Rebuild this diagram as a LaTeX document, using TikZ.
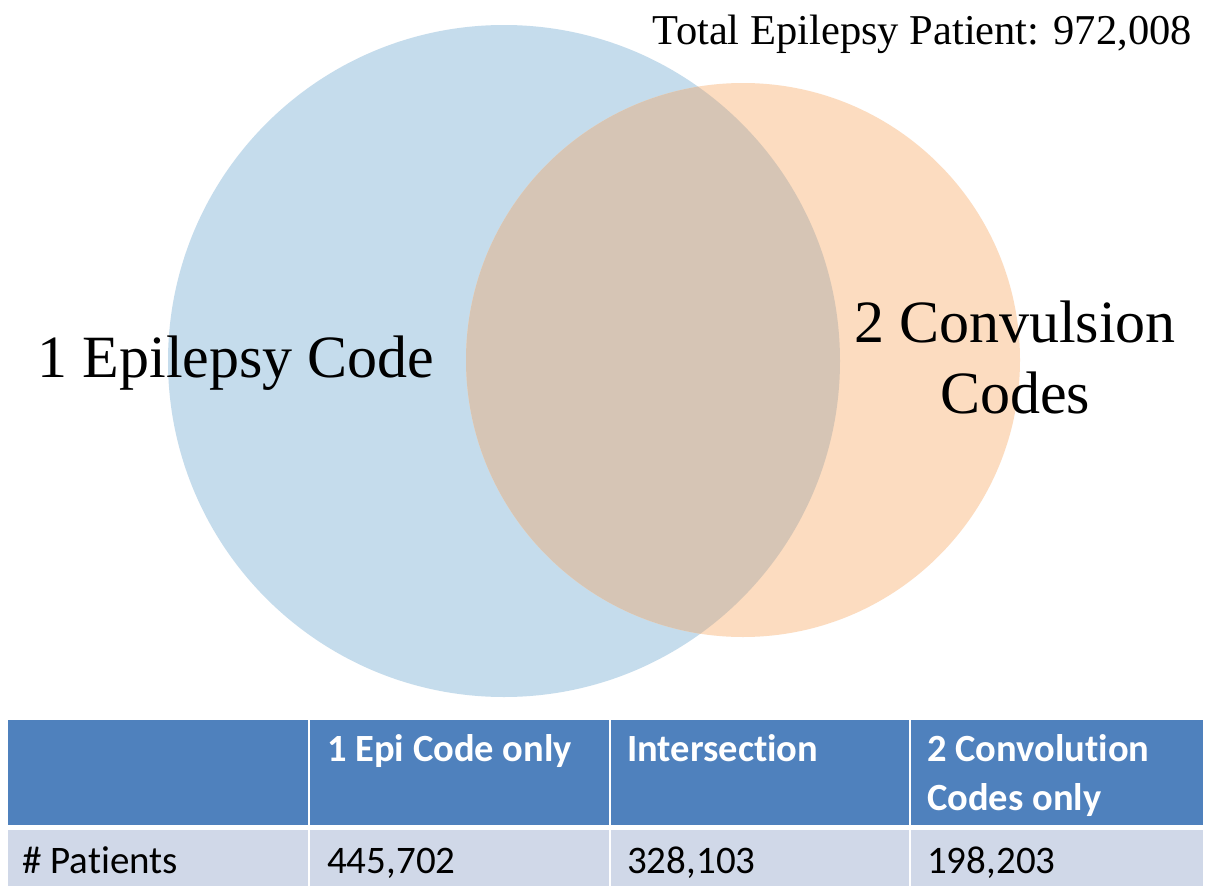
\documentclass[tikz,border=0pt]{standalone}
\usepackage{fontspec}
\setmainfont{Liberation Serif}
\newfontfamily\tablefont[Ligatures=NoCommon]{Carlito}
\definecolor{setA}{HTML}{C5DCEC}
\definecolor{setB}{HTML}{FCDCC0}
\definecolor{setAB}{HTML}{D6C5B5}
\definecolor{headfill}{HTML}{4F81BD}
\definecolor{rowfill}{HTML}{D0D8E8}
\tikzset{
  vennlabel/.style={font=\fontsize{60}{70}\selectfont, inner sep=0pt, anchor=base},
  headcell/.style={fill=headfill, draw=none},
  rowcell/.style={fill=rowfill, draw=none},
  headtext/.style={font=\tablefont\bfseries\fontsize{38.5}{49}\selectfont, text=white, inner sep=0pt, anchor=base west},
  rowtext/.style={font=\tablefont\fontsize{39}{49}\selectfont, text=black, inner sep=0pt, anchor=base west},
}
\begin{document}
\begin{tikzpicture}[x=1pt,y=-1pt]
  \useasboundingbox (0,0) rectangle (1211,886);
  \fill[white] (0,0) rectangle (1211,886);

  % Venn diagram
  \fill[setA] (504,361) circle[radius=336];
  \fill[setB] (743,360) circle[radius=277];
  \begin{scope}
    \clip (504,361) circle[radius=336];
    \fill[setAB] (743,360) circle[radius=277];
  \end{scope}

  \node[font=\fontsize{42.5}{50}\selectfont, inner sep=0pt, anchor=base east] (total) at (1192,44) {Total Epilepsy Patient: 972,008};
  \node[vennlabel] (epi) at (236,377) {1 Epilepsy Code};
  \node[vennlabel] (conv1) at (1015,342) {2 Convulsion};
  \node[vennlabel] (conv2) at (1015,413) {Codes};

  % Summary table
  \fill[headcell] (8,720) rectangle (308,825);
  \fill[headcell] (310,720) rectangle (609,825);
  \fill[headcell] (611,720) rectangle (909,825);
  \fill[headcell] (911,720) rectangle (1203,825);
  \fill[rowcell] (8,830) rectangle (308,886);
  \fill[rowcell] (310,830) rectangle (609,886);
  \fill[rowcell] (611,830) rectangle (909,886);
  \fill[rowcell] (911,830) rectangle (1203,886);

  \node[headtext] (h1) at (327,761) {1 Epi Code only};
  \node[headtext] (h2) at (627,761) {Intersection};
  \node[headtext] (h3a) at (927,761) {2 Convolution};
  \node[headtext] (h3b) at (927,810) {Codes only};

  \node[rowtext] (r0) at (22,873) {\# Patients};
  \node[rowtext] (r1) at (327,873) {445,702};
  \node[rowtext] (r2) at (627,873) {328,103};
  \node[rowtext] (r3) at (927,873) {198,203};
\end{tikzpicture}
\end{document}
